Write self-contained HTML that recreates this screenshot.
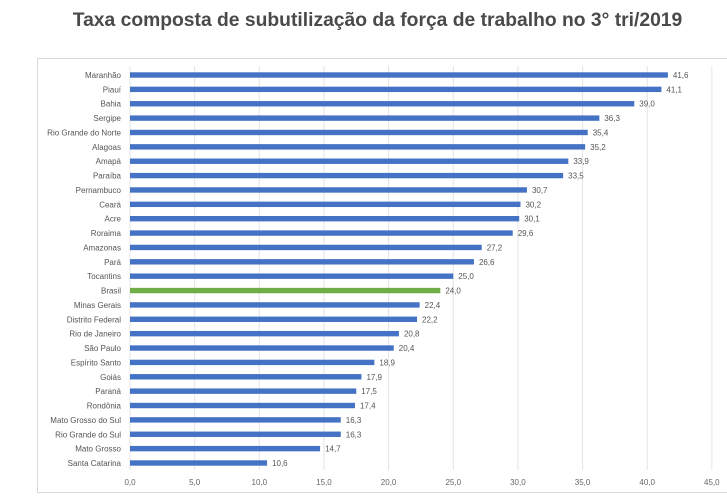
<!DOCTYPE html>
<html><head><meta charset="utf-8"><style>
body{margin:0;width:727px;height:500px;background:#fff;overflow:hidden;font-family:"Liberation Sans",sans-serif}
#title{position:absolute;left:14px;width:727px;top:10px;text-align:center;font-weight:bold;font-size:19.3px;color:#4a4a4a}
#frame{position:absolute;left:37px;top:58px;width:700px;height:435px;border:1px solid #d9d9d9;box-sizing:border-box}
svg{position:absolute;left:0;top:0}
</style></head><body>
<div id="title">Taxa composta de subutilização da força de trabalho no 3° tri/2019</div>
<div id="frame"></div>
<svg id="chart" width="727" height="500"></svg>
<script>
const categories=["Maranhão","Piauí","Bahia","Sergipe","Rio Grande do Norte","Alagoas","Amapá","Paraíba","Pernambuco","Ceará","Acre","Roraima","Amazonas","Pará","Tocantins","Brasil","Minas Gerais","Distrito Federal","Rio de Janeiro","São Paulo","Espírito Santo","Goiás","Paraná","Rondônia","Mato Grosso do Sul","Rio Grande do Sul","Mato Grosso","Santa Catarina"];
const values=[41.6,41.1,39.0,36.3,35.4,35.2,33.9,33.5,30.7,30.2,30.1,29.6,27.2,26.6,25.0,24.0,22.4,22.2,20.8,20.4,18.9,17.9,17.5,17.4,16.3,16.3,14.7,10.6];
const ticks=[0,5,10,15,20,25,30,35,40,45];
const x0=130,pxPerUnit=12.93,yTop=75,yBot=463;
const xs=v=>x0+v*pxPerUnit;
const ys=i=>yTop+i*(yBot-yTop)/(categories.length-1);
const svg=document.getElementById('chart');
const NS='http://www.w3.org/2000/svg';
function mk(t,a){const e=document.createElementNS(NS,t);for(const k in a)e.setAttribute(k,a[k]);svg.appendChild(e);return e;}
const fmt=v=>v.toFixed(1).replace('.',',');
ticks.forEach(t=>{
  const g=mk('line',{x1:xs(t),x2:xs(t),y1:66,y2:470,stroke:'#e4e4e4','stroke-width':1});
  
  
  const l=mk('text',{x:xs(t),y:485,'text-anchor':'middle','font-size':8,fill:'#666'});
  l.textContent=fmt(t);
  
  
});
categories.forEach((c,i)=>{
  const y=ys(i);
  const b=mk('rect',{x:x0,y:y-2.7,width:xs(values[i])-x0,height:5.4,fill:c==='Brasil'?'#70ad47':'#4472c4'});
  
  
  const l=mk('text',{x:121,y:y+3,'text-anchor':'end','font-size':8,fill:'#555'});
  l.textContent=c;
  
  
  const v=mk('text',{x:xs(values[i])+5,y:y+3,'font-size':8,fill:'#555'});
  v.textContent=fmt(values[i]);
  
  
});
</script>
</body></html>
